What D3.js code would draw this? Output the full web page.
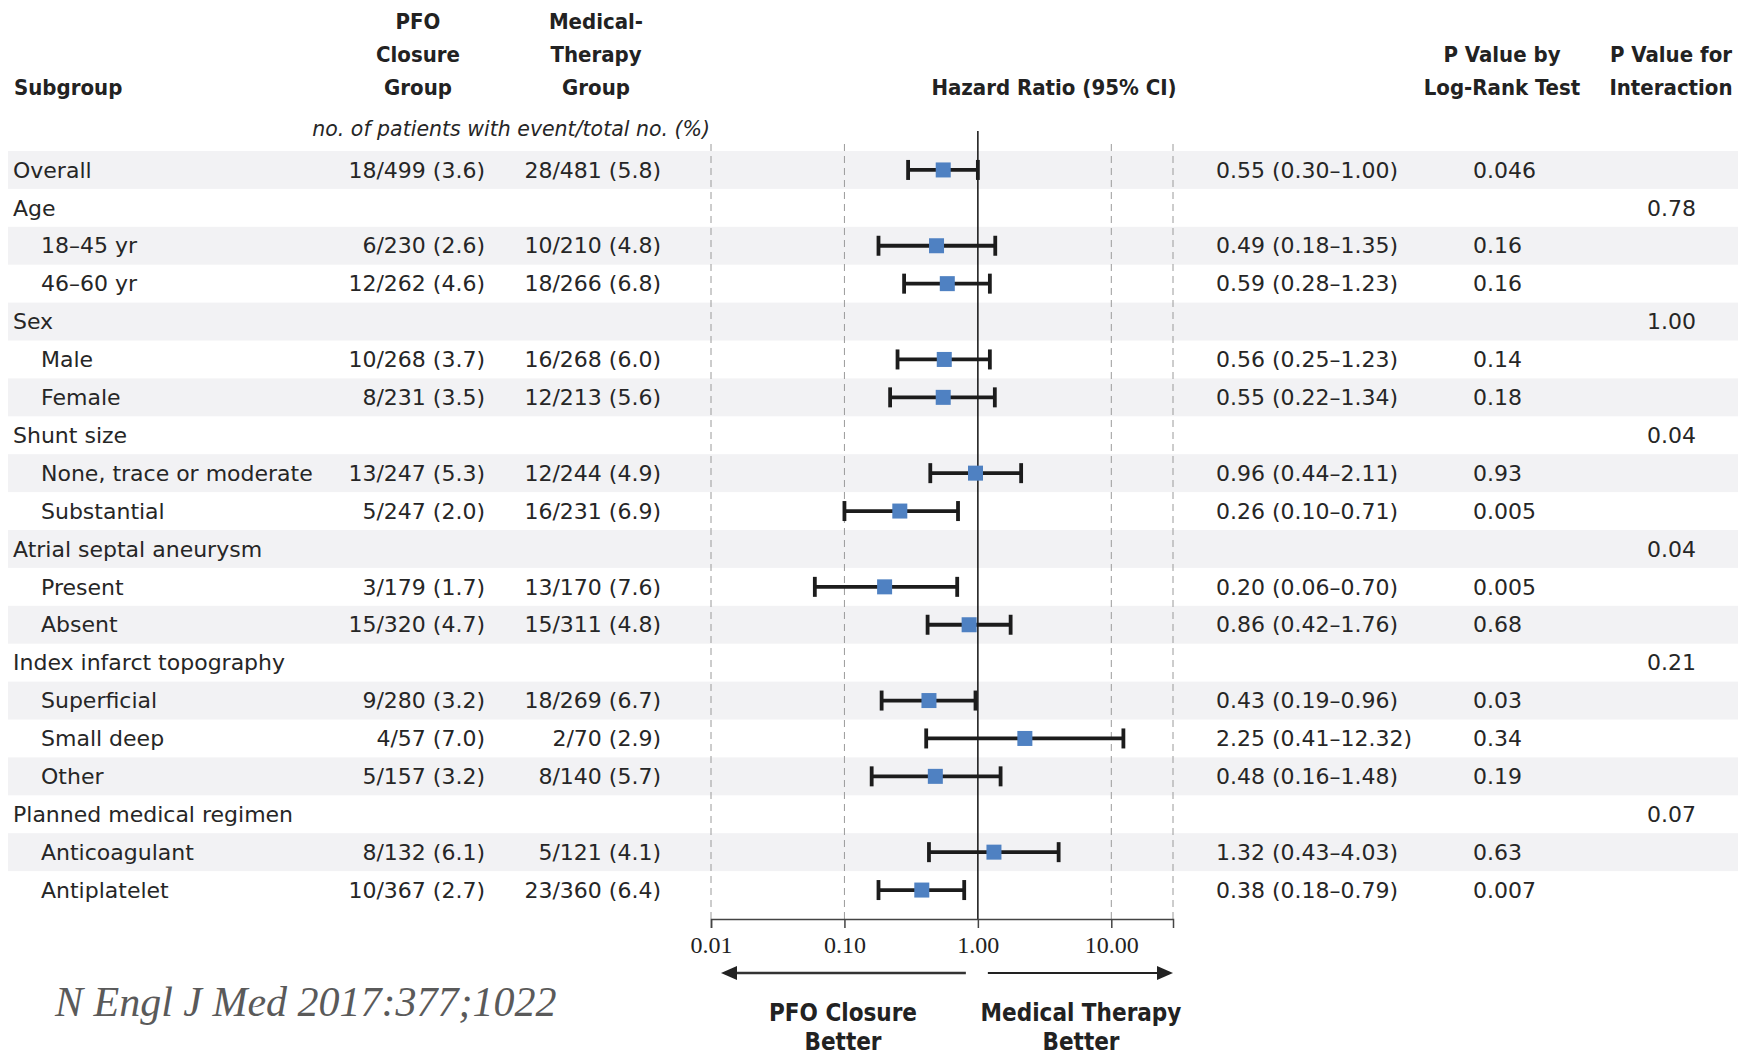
<!DOCTYPE html>
<html><head><meta charset="utf-8">
<script src="https://cdn.jsdelivr.net/npm/d3@7"></script>
<style>
html,body{margin:0;padding:0;background:#fff;}
svg{display:block;}
</style></head>
<body>
<svg id="chart" width="1740" height="1056"></svg>
<script>
const subgroups = ["Overall","Age","18–45 yr","46–60 yr","Sex","Male","Female","Shunt size","None, trace or moderate","Substantial","Atrial septal aneurysm","Present","Absent","Index infarct topography","Superficial","Small deep","Other","Planned medical regimen","Anticoagulant","Antiplatelet"];
const indent = [0,0,1,1,0,1,1,0,1,1,0,1,1,0,1,1,1,0,1,1];
const pfoGroup = ["18/499 (3.6)","","6/230 (2.6)","12/262 (4.6)","","10/268 (3.7)","8/231 (3.5)","","13/247 (5.3)","5/247 (2.0)","","3/179 (1.7)","15/320 (4.7)","","9/280 (3.2)","4/57 (7.0)","5/157 (3.2)","","8/132 (6.1)","10/367 (2.7)"];
const medGroup = ["28/481 (5.8)","","10/210 (4.8)","18/266 (6.8)","","16/268 (6.0)","12/213 (5.6)","","12/244 (4.9)","16/231 (6.9)","","13/170 (7.6)","15/311 (4.8)","","18/269 (6.7)","2/70 (2.9)","8/140 (5.7)","","5/121 (4.1)","23/360 (6.4)"];
const hr = [0.55,null,0.49,0.59,null,0.56,0.55,null,0.96,0.26,null,0.20,0.86,null,0.43,2.25,0.48,null,1.32,0.38];
const ciLow = [0.30,null,0.18,0.28,null,0.25,0.22,null,0.44,0.10,null,0.06,0.42,null,0.19,0.41,0.16,null,0.43,0.18];
const ciHigh = [1.00,null,1.35,1.23,null,1.23,1.34,null,2.11,0.71,null,0.70,1.76,null,0.96,12.32,1.48,null,4.03,0.79];
const pLogRank = ["0.046","","0.16","0.16","","0.14","0.18","","0.93","0.005","","0.005","0.68","","0.03","0.34","0.19","","0.63","0.007"];
const pInteraction = ["","0.78","","","1.00","","","0.04","","","0.04","","","0.21","","","","0.07","",""];
const axisTicks = [0.01, 0.1, 1, 10];
const axisMax = 29;

const svg = d3.select("#chart");
const SANS = "'DejaVu Sans', Lato, sans-serif";
const BOLD = "'DejaVu Sans Condensed', 'DejaVu Sans', sans-serif";
const SERIF = "'Liberation Serif', 'DejaVu Serif', serif";

const x = d3.scaleLog().domain([0.01, axisMax]).range([711, 1173]);
const y = d3.scaleBand().domain(d3.range(subgroups.length)).range([151, 151 + 37.9*subgroups.length]);
const axisY = 919;

// zebra bands
svg.append("g").selectAll("rect").data(d3.range(subgroups.length).filter(i => i % 2 === 0))
  .join("rect").attr("x", 8).attr("width", 1730).attr("y", i => y(i)).attr("height", y.bandwidth())
  .attr("fill", "#f2f2f4");

// dashed reference lines
svg.append("g").selectAll("line").data([0.01, 0.1, 10, axisMax]).join("line")
  .attr("x1", d => x(d)).attr("x2", d => x(d)).attr("y1", 144).attr("y2", axisY)
  .attr("stroke", "#9a9a9a").attr("stroke-width", 1).attr("stroke-dasharray", "7,5");
// solid line at 1
svg.append("line").attr("x1", x(1)).attr("x2", x(1)).attr("y1", 131).attr("y2", axisY)
  .attr("stroke", "#111").attr("stroke-width", 1.5);

// axis
const axis = svg.append("g").attr("transform", `translate(0,${axisY})`)
  .call(d3.axisBottom(x).tickValues(axisTicks).tickFormat(d3.format(".2f")).tickSizeOuter(0).tickSize(9).tickPadding(8));
axis.select(".domain").attr("stroke", "#444").attr("stroke-width", 1.5);
axis.selectAll(".tick line").attr("stroke", "#444").attr("stroke-width", 1.5);
axis.selectAll(".tick text").attr("font-family", SERIF).attr("font-size", 24).attr("fill", "#222");

// CI bars
const rows = d3.range(subgroups.length).filter(i => hr[i] !== null);
const cy = i => y(i) + y.bandwidth()/2;
const g = svg.append("g");
g.selectAll("line.ci").data(rows).join("line").attr("class","ci")
  .attr("x1", i => x(ciLow[i])).attr("x2", i => x(ciHigh[i])).attr("y1", cy).attr("y2", cy)
  .attr("stroke", "#1c1c1c").attr("stroke-width", 3.8);
g.selectAll("line.capL").data(rows).join("line")
  .attr("x1", i => x(ciLow[i])).attr("x2", i => x(ciLow[i])).attr("y1", i => cy(i)-10).attr("y2", i => cy(i)+10)
  .attr("stroke", "#1c1c1c").attr("stroke-width", 3.8);
g.selectAll("line.capR").data(rows).join("line")
  .attr("x1", i => x(ciHigh[i])).attr("x2", i => x(ciHigh[i])).attr("y1", i => cy(i)-10).attr("y2", i => cy(i)+10)
  .attr("stroke", "#1c1c1c").attr("stroke-width", 3.8);
g.selectAll("rect.pt").data(rows).join("rect")
  .attr("x", i => x(hr[i]) - 7.5).attr("y", i => cy(i) - 7.5).attr("width", 15).attr("height", 15)
  .attr("fill", "#4f81c2");

// text columns
const txt = svg.append("g").attr("font-family", SANS).attr("font-size", 22).attr("fill", "#262626");
function col(arr, xp, anchor, xfn) {
  txt.append("g").selectAll("text").data(d3.range(arr.length)).join("text")
    .attr("x", i => xfn ? xfn(i) : xp).attr("y", i => cy(i)).attr("dy", "0.35em")
    .attr("text-anchor", anchor).text(i => arr[i]);
}
col(subgroups, 0, "start", i => indent[i] ? 41 : 13);
col(pfoGroup, 485, "end");
col(medGroup, 661, "end");
col(d3.range(subgroups.length).map(i => hr[i] === null ? "" : `${hr[i].toFixed(2)} (${ciLow[i].toFixed(2)}–${ciHigh[i].toFixed(2)})`), 1216, "start");
col(pLogRank, 1473, "start");
col(pInteraction, 1696, "end");

// headers
const hdr = svg.append("g").attr("font-family", BOLD).attr("font-size", 22).attr("font-weight", "bold").attr("fill", "#222");
function hText(lines, xp, anchor, ys) {
  lines.forEach((t, k) => hdr.append("text").attr("x", xp).attr("y", ys[k]).attr("dy", "0.35em").attr("text-anchor", anchor).text(t));
}
hText(["Subgroup"], 14, "start", [87]);
hText(["PFO","Closure","Group"], 418, "middle", [21,54,87]);
hText(["Medical-","Therapy","Group"], 596, "middle", [21,54,87]);
hText(["Hazard Ratio (95% CI)"], 1054, "middle", [87]);
hText(["P Value by","Log-Rank Test"], 1502, "middle", [54,87]);
hText(["P Value for","Interaction"], 1671, "middle", [54,87]);
svg.append("text").attr("x", 710).attr("y", 129).attr("dy","0.35em").attr("text-anchor","end")
  .attr("font-family", SANS).attr("font-size", 20.5).attr("font-style","italic").attr("fill","#262626")
  .text("no. of patients with event/total no. (%)");

// arrows
const arr = svg.append("g");
const ay = 973;
const lTip = x(0.01) + 10, lEnd = x(1) - 12, rStart = x(1) + 10, rTip = x(axisMax);
arr.append("line").attr("x1", lTip + 12).attr("x2", lEnd).attr("y1", ay).attr("y2", ay).attr("stroke","#333").attr("stroke-width",2.5);
arr.append("path").attr("d", `M${lTip},${ay} L${lTip+16},${ay-7} L${lTip+16},${ay+7} Z`).attr("fill","#222");
arr.append("line").attr("x1", rStart).attr("x2", rTip - 12).attr("y1", ay).attr("y2", ay).attr("stroke","#222").attr("stroke-width",1.8);
arr.append("path").attr("d", `M${rTip},${ay} L${rTip-16},${ay-7} L${rTip-16},${ay+7} Z`).attr("fill","#222");

const bl = svg.append("g").attr("font-family", BOLD).attr("font-size", 24).attr("font-weight","bold").attr("fill","#222").attr("text-anchor","middle");
bl.append("text").attr("x", 843).attr("y", 1013).attr("dy","0.35em").text("PFO Closure");
bl.append("text").attr("x", 843).attr("y", 1042).attr("dy","0.35em").text("Better");
bl.append("text").attr("x", 1081).attr("y", 1013).attr("dy","0.35em").text("Medical Therapy");
bl.append("text").attr("x", 1081).attr("y", 1042).attr("dy","0.35em").text("Better");

svg.append("text").attr("x", 55).attr("y", 1001).attr("dy","0.35em")
  .attr("font-family", SERIF).attr("font-style","italic").attr("font-size", 42).attr("fill","#5a5a5a")
  .text("N Engl J Med 2017:377;1022");
</script>
</body></html>
